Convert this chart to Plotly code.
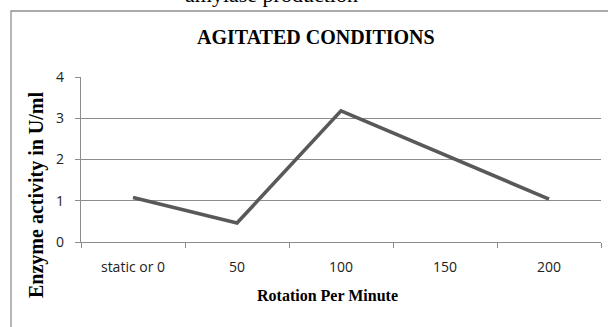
import plotly.graph_objects as go

categories = ["static or 0", "50", "100", "150", "200"]
activity = [1.08, 0.46, 3.18, 2.1, 1.04]
y_ticks = [0, 1, 2, 3, 4]

W, H = 608, 327
L, R, T, B = 81, 7, 77, 85
pw, ph = W - L - R, H - T - B

def px_x(x):
    return (x - L) / pw

def px_y(y):
    return (H - B - y) / ph

fig = go.Figure(go.Scatter(
    x=categories, y=activity, mode="lines",
    line=dict(color="#595959", width=3.6),
    hoverinfo="skip", showlegend=False,
))

grey = "#8c8c8c"
fig.update_layout(
    width=W, height=H,
    margin=dict(l=L, r=R, t=T, b=B),
    paper_bgcolor="white", plot_bgcolor="white",
    xaxis=dict(
        type="category", range=[-0.5, 4.5],
        tickson="boundaries", ticks="outside", ticklen=5, tickcolor=grey,
        showline=True, linecolor=grey, linewidth=1.3,
        showgrid=False, zeroline=False,
        tickfont=dict(family="Open Sans", size=14, color="#222222"),
        ticklabelstandoff=12,
    ),
    yaxis=dict(
        range=[0, 4], tickvals=y_ticks, ticks="outside", ticklen=5, tickcolor=grey,
        showline=True, linecolor=grey, linewidth=1.3,
        showgrid=True, gridcolor=grey, gridwidth=1.3, zeroline=False,
        tickfont=dict(family="Open Sans", size=14, color="#222222"),
        ticklabelstandoff=8,
    ),
    shapes=[dict(
        type="rect", xref="paper", yref="paper",
        x0=px_x(11), x1=px_x(620), y0=px_y(340), y1=px_y(11),
        line=dict(color="#8f8f8f", width=1.3), fillcolor="rgba(0,0,0,0)",
    )],
    annotations=[
        dict(text="amylase production", xref="paper", yref="paper",
             x=px_x(271), y=px_y(9), xanchor="center", yanchor="bottom",
             showarrow=False,
             font=dict(family="Liberation Serif", size=22, color="black")),
        dict(text="<b>AGITATED CONDITIONS</b>", xref="paper", yref="paper",
             x=px_x(316), y=px_y(37), xanchor="center", yanchor="middle",
             showarrow=False,
             font=dict(family="Liberation Serif", size=20, color="black")),
        dict(text="<b>Rotation Per Minute</b>", xref="paper", yref="paper",
             x=px_x(327), y=px_y(295), xanchor="center", yanchor="middle",
             showarrow=False,
             font=dict(family="Liberation Serif", size=16, color="black")),
        dict(text="<b>Enzyme activity in U/ml</b>", xref="paper", yref="paper",
             x=px_x(36), y=px_y(195), xanchor="center", yanchor="middle",
             textangle=-90, showarrow=False,
             font=dict(family="Liberation Serif", size=20, color="black")),
    ],
)

fig.write_html("out.html")
